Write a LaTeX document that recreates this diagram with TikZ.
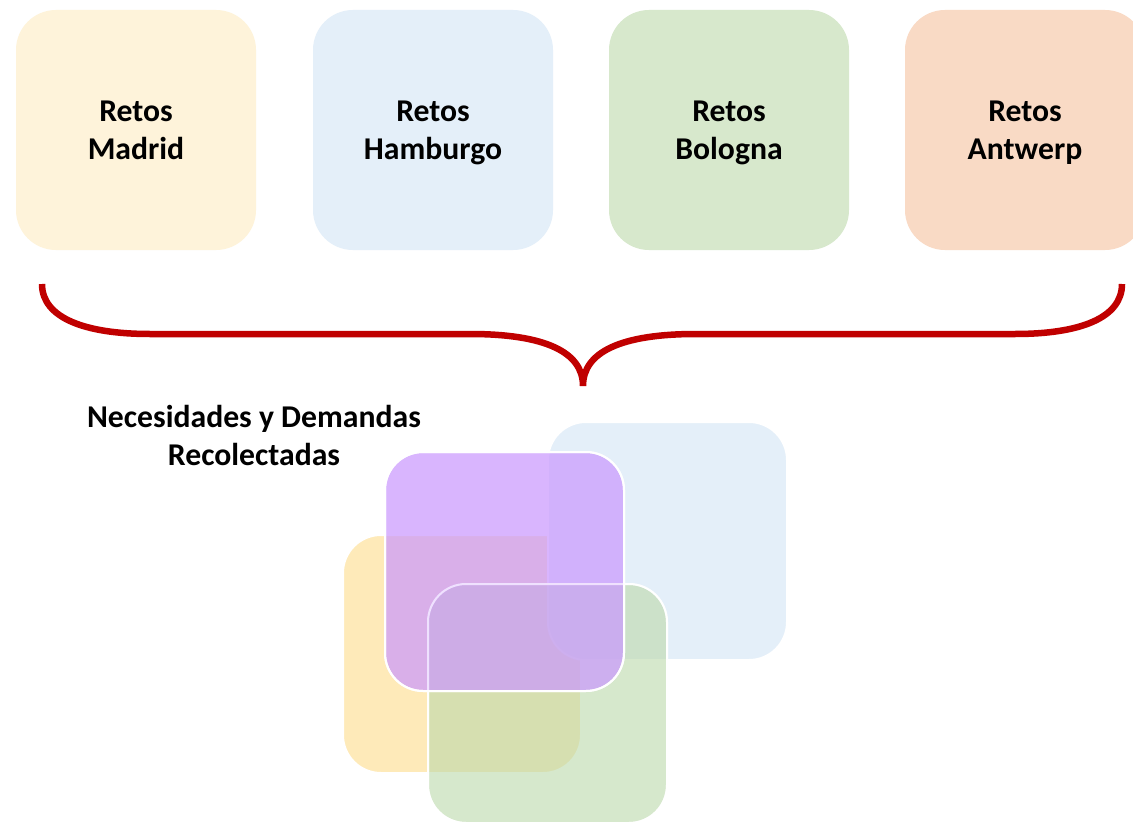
\documentclass[tikz,border=0pt]{standalone}
\usepackage{fontspec}
\setmainfont{Carlito}
\definecolor{cMadrid}{HTML}{FEF3DA}
\definecolor{cHamb}{HTML}{E4EFF9}
\definecolor{cBolo}{HTML}{D7E8CC}
\definecolor{cAntw}{HTML}{F9DAC5}
\definecolor{cYel}{HTML}{FEEAB9}
\definecolor{cBlue}{HTML}{E4EFF9}
\definecolor{cGreen}{HTML}{BCD9AA}
\definecolor{cPurp}{HTML}{CA97FE}
\definecolor{braceRed}{HTML}{C00000}
\tikzset{
  citybox/.style={rectangle, rounded corners=40pt, minimum width=240pt, minimum height=240pt,
    inner sep=0pt, align=center, font=\fontsize{31.7}{38}\selectfont\bfseries},
  sq/.style={rounded corners=38pt, draw=white, line width=2pt},
  bracestyle/.style={draw=braceRed, line width=6.5pt},
  lbl/.style={align=center, inner sep=0pt, font=\fontsize{31.7}{38}\selectfont\bfseries}
}
\begin{document}
\begin{tikzpicture}[x=1pt,y=-1pt]
\clip (0,0) rectangle (1133,824);
\fill[white] (0,0) rectangle (1133,824);
% top boxes
\node[citybox, fill=cMadrid] (madrid) at (136,130) {};
\node[citybox, fill=cHamb] (hamburgo) at (433,130) {};
\node[citybox, fill=cBolo] (bologna) at (729,130) {};
\node[citybox, fill=cAntw] (antwerp) at (1025,130) {};
\node[lbl] (tmadrid) at (136,133.4) {\strut Retos\\\strut Madrid};
\node[lbl] (thamburgo) at (433,133.4) {\strut Retos\\\strut Hamburgo};
\node[lbl] (tbologna) at (729,133.4) {\strut Retos\\\strut Bologna};
\node[lbl] (tantwerp) at (1025,133.4) {\strut Retos\\\strut Antwerp};
% brace
\coordinate (bl) at (42,284);
\coordinate (tip) at (583,386);
\coordinate (br) at (1122,284);
\draw[bracestyle] (bl) .. controls (42,318) and (85,334) .. (150,334) -- (470,334)
  .. controls (545,334) and (583,352) .. (tip)
  .. controls (583,352) and (621,334) .. (696,334) -- (1015,334)
  .. controls (1080,334) and (1122,318) .. (br);
% label
\node[lbl] (necesidades) at (254,438.4) {\strut Necesidades y Demandas\\\strut Recolectadas};
% overlapping squares
\fill[sq, fill=cYel] (343,535) rectangle (581,773);
\fill[sq, fill=cBlue] (548,422) rectangle (787,660);
\fill[sq, fill=cGreen, fill opacity=0.6] (428,584) rectangle (667,823);
\fill[sq, fill=cPurp, fill opacity=0.7] (385,452) rectangle (624,691);
\draw[sq, draw opacity=0.6] (428,584) rectangle (667,823);
\draw[sq] (385,452) rectangle (624,691);
\end{tikzpicture}
\end{document}
